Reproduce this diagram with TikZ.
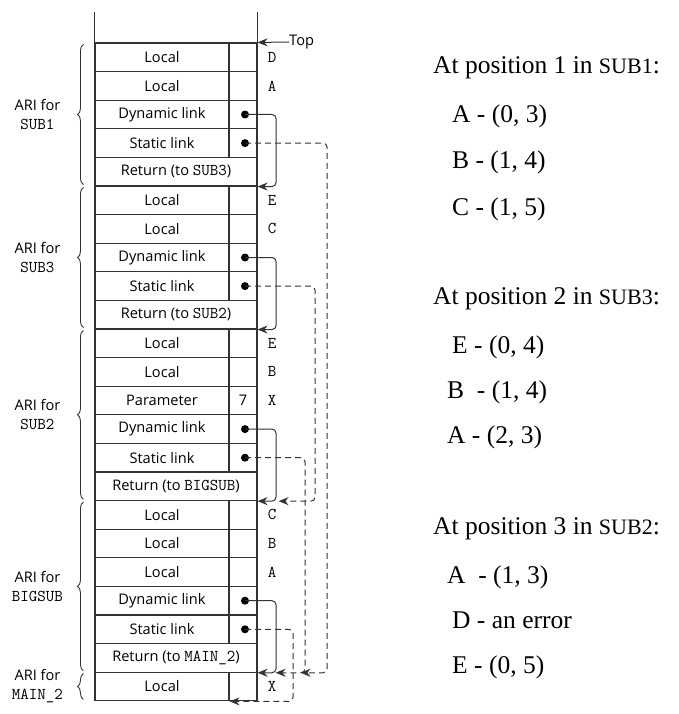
\documentclass[tikz,border=0pt]{standalone}
\usepackage{fontspec}
\setmainfont{Liberation Serif}
\newfontfamily\cellfont{Open Sans}
\usetikzlibrary{arrows.meta,decorations.pathreplacing}

\tikzset{
  cell/.style={draw=black!80, line width=1.1pt, minimum height=28.6pt, inner sep=0pt,
    font=\cellfont\fontsize{14.6}{17}\selectfont},
  namecell/.style={cell, minimum width=134pt},
  valcell/.style={cell, minimum width=28pt},
  retcell/.style={cell, minimum width=162pt},
  varname/.style={font=\ttfamily\fontsize{16.5}{17}\selectfont, inner sep=0pt},
  ptr/.style={circle, fill=black, inner sep=0pt, minimum size=8pt},
  dynlink/.style={draw=black!80, line width=1pt, rounded corners=4pt,
    -{Stealth[length=10pt,width=8pt]}},
  statlink/.style={dynlink, dash pattern=on 6pt off 4pt},
  ari/.style={draw=black!80, line width=0.9pt, decorate, decoration={brace, amplitude=6pt}},
  arilabel/.style={font=\cellfont\fontsize{14.6}{19}\selectfont, align=center, inner sep=0pt},
  note/.style={font=\fontsize{25.5}{30}\selectfont, inner sep=0pt, anchor=base west},
}
\newcommand\subname[1]{{\fontsize{22}{26}\selectfont #1}}
\newcommand\code[1]{{\ttfamily\fontsize{16.5}{17}\selectfont #1}}

\begin{document}
\begin{tikzpicture}[x=1pt,y=-1pt]
\useasboundingbox (0,0) rectangle (679,714);

\def\h{28.6}
\def\yt{43}

% locals
\foreach \i/\var in {1/D,2/A,6/E,7/C,11/E,12/B,17/C,18/B,19/A,23/X}{
  \node[namecell] (n\i) at (162,{\yt+(\i-0.5)*\h}) {Local};
  \node[valcell] (v\i) at (243,{\yt+(\i-0.5)*\h}) {};
  \node[varname] (w\i) at (272,{\yt+(\i-0.5)*\h}) {\var};
}
\node[namecell] (n13) at (162,{\yt+12.5*\h}) {Parameter};
\node[valcell] (v13) at (243,{\yt+12.5*\h}) {7};
\node[varname] (w13) at (272,{\yt+12.5*\h}) {X};

% links
\foreach \i in {3,8,14,20}{
  \node[namecell] (n\i) at (162,{\yt+(\i-0.5)*\h}) {Dynamic link};
  \node[valcell] (v\i) at (243,{\yt+(\i-0.5)*\h}) {};
  \node[ptr] (p\i) at ([xshift=2pt]v\i.center) {};
}
\foreach \i in {4,9,15,21}{
  \node[namecell] (n\i) at (162,{\yt+(\i-0.5)*\h}) {Static link};
  \node[valcell] (v\i) at (243,{\yt+(\i-0.5)*\h}) {};
  \node[ptr] (p\i) at ([xshift=2pt]v\i.center) {};
}
\foreach \i/\to in {5/SUB3,10/SUB2,16/BIGSUB,22/MAIN\_2}
  \node[retcell] (n\i) at (176,{\yt+(\i-0.5)*\h}) {Return (to \code{\to})};

\draw[draw=black!80, line width=1.1pt] (n1.north west) -- ++(0,-30);
\draw[draw=black!80, line width=1.1pt] (v1.north east) -- ++(0,-30);
\node[arilabel, anchor=west] (top) at (289,42) {Top};
\draw[dynlink] (top.west) -- (v1.north east);

\foreach \a/\b in {3/5,8/10,14/16,20/22}
  \draw[dynlink] (p\a.center) -- ++(31,0) |- (n\b.south east);
\foreach \a/\b/\dx/\s in {4/22/82/43,9/16/70/21,15/22/60/18,21/23/48/0}
  \draw[statlink] (p\a.center) -- ++(\dx,0) |- ([xshift=\s]n\b.south east);

% activation records
\foreach \a/\b/\name in {1/5/SUB1,6/10/SUB3,11/16/SUB2,17/22/BIGSUB,23/23/MAIN\_2}
  \draw[ari] ([xshift=-11pt,yshift=2pt]n\b.south west) -- ([xshift=-11pt,yshift=-2pt]n\a.north west)
    node[arilabel, midway, xshift=-46pt] {ARI for\\\code{\name}};

\node[note] (h1) at (433,74) {At position 1 in \subname{SUB1}:};
\node[note] (h2) at (433,304) {At position 2 in \subname{SUB3}:};
\node[note] (h3) at (433,534) {At position 3 in \subname{SUB2}:};
\foreach \k/\x/\y/\txt in {a1/452/123/{A - (0, 3)}, a2/452/168/{B - (1, 4)}, a3/452/215/{C - (1, 5)},
    b1/452/353/{E - (0, 4)}, b2/447/398/{B~~- (1, 4)}, b3/447/443/{A - (2, 3)},
    c1/447/583/{A~~- (1, 3)}, c2/452/628/{D - an error}, c3/452/673/{E - (0, 5)}}
  \node[note] (\k) at (\x,\y) {\txt};

\end{tikzpicture}
\end{document}
